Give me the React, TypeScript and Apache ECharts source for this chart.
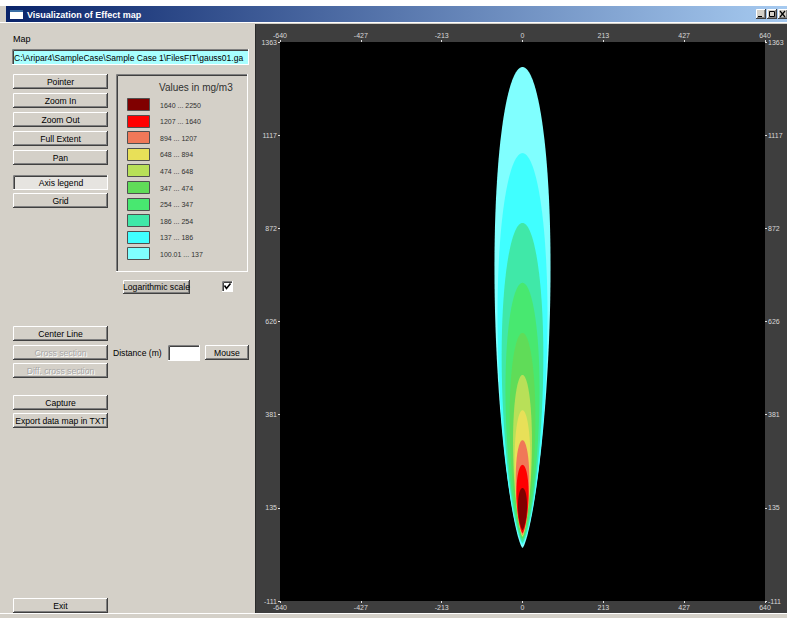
import React, { useEffect, useRef } from "react";
import * as echarts from "echarts";

// ---------------- data ----------------
const levelBreaks = ["100.01", "137", "186", "254", "347", "474", "648", "894", "1207", "1640", "2250"];
const levelColors = ["#80FFFF", "#40FFFF", "#40E8A8", "#48E870", "#60DC58", "#B8E058", "#E8E058", "#F07858", "#FF0000", "#800000"];
// contour outlines (data units), lowest level first
const contourCenter = [0, 0, 0, 0, 0, 0, 0, 0, 0, 0];
const contourBottom = [29, 37, 42, 50, 55, 58, 60, 63, 68, 76];
const contourTop = [1297, 1070, 886, 728, 596, 485, 392, 313, 248, 187];
const contourHalfWidth = [74, 66, 55, 45, 34, 25, 21, 18, 16, 12];
const xTickLabels = ["-640", "-427", "-213", "0", "213", "427", "640"];
const yTickLabels = ["-111", "135", "381", "626", "872", "1117", "1363"];
const xExtent = [-640, 640];
const yExtent = [-111, 1363];
const windowTitle = "Visualization of Effect map";
const mapPath = "C:\\Aripar4\\SampleCase\\Sample Case 1\\FilesFIT\\gauss01.ga";
const legendTitle = "Values in mg/m3";

// ---------------- ui helpers ----------------
const FACE = "#D4D0C8";
const FF = "'Liberation Sans', Arial, sans-serif";
const Z = -2;

function ln(x1: number, y1: number, x2: number, y2: number, color: string, w = 1): any {
  return { type: "line", z: Z, silent: true, shape: { x1, y1, x2, y2 }, style: { stroke: color, lineWidth: w } };
}
function rc(x: number, y: number, w: number, h: number, fill: any, z = Z): any {
  return { type: "rect", z, silent: true, shape: { x, y, width: w, height: h }, style: { fill } };
}
function tx(x: number, y: number, s: string, font: string, fill: string, align = "left", valign = "middle"): any {
  return {
    type: "text", z: Z, silent: true, x, y,
    style: { text: s, font, fill, align, verticalAlign: valign, textAlign: align, textVerticalAlign: valign },
  };
}
function raised(x: number, y: number, w: number, h: number, face = FACE): any[] {
  return [
    rc(x, y, w, h, face),
    ln(x + 0.5, y + h - 1, x + 0.5, y + 0.5, "#FFFFFF"),
    ln(x + 0.5, y + 0.5, x + w - 1, y + 0.5, "#FFFFFF"),
    ln(x + w - 0.5, y, x + w - 0.5, y + h, "#404040"),
    ln(x, y + h - 0.5, x + w, y + h - 0.5, "#404040"),
    ln(x + w - 1.5, y + 1, x + w - 1.5, y + h - 1, "#808080"),
    ln(x + 1, y + h - 1.5, x + w - 1, y + h - 1.5, "#808080"),
  ];
}
function sunken(x: number, y: number, w: number, h: number, fill: string): any[] {
  return [
    rc(x, y, w, h, fill),
    ln(x + 0.5, y + h, x + 0.5, y + 0.5, "#808080"),
    ln(x + 0.5, y + 0.5, x + w, y + 0.5, "#808080"),
    ln(x + 1.5, y + h - 1, x + 1.5, y + 1.5, "#404040"),
    ln(x + 1.5, y + 1.5, x + w - 1, y + 1.5, "#404040"),
    ln(x + w - 0.5, y, x + w - 0.5, y + h, "#FFFFFF"),
    ln(x, y + h - 0.5, x + w, y + h - 0.5, "#FFFFFF"),
  ];
}
function button(x: number, y: number, w: number, h: number, label: string, state = ""): any[] {
  const font = `8.6px ${FF}`;
  const cx = x + w / 2, cy = y + h / 2;
  if (state === "pressed") {
    return [...sunken(x, y, w, h, "#E6E4E0"), tx(cx + 0.5, cy + 0.5, label, font, "#000", "center")];
  }
  const els = raised(x, y, w, h);
  if (state === "disabled") {
    els.push(tx(cx + 1, cy + 1, label, font, "#FFFFFF", "center"));
    els.push(tx(cx, cy, label, font, "#A8A8A8", "center"));
  } else {
    els.push(tx(cx, cy, label, font, "#000", "center"));
  }
  return els;
}

const leftButtons = [
  { label: "Pointer", y: 74, state: "" },
  { label: "Zoom In", y: 93, state: "" },
  { label: "Zoom Out", y: 112, state: "" },
  { label: "Full Extent", y: 131, state: "" },
  { label: "Pan", y: 150, state: "" },
  { label: "Axis legend", y: 175, state: "pressed" },
  { label: "Grid", y: 193, state: "" },
  { label: "Center Line", y: 326, state: "" },
  { label: "Cross section", y: 345, state: "disabled" },
  { label: "Diff. cross section", y: 363, state: "disabled" },
  { label: "Capture", y: 395, state: "" },
  { label: "Export data map in TXT", y: 413, state: "" },
  { label: "Exit", y: 598, state: "" },
];

function buildGraphic(): any[] {
  const els: any[] = [];
  // window background / border
  els.push(rc(0, 0, 787, 618, FACE));
  els.push(rc(0, 0, 787, 6, "#FFFFFF"));
  // title bar
  els.push(
    rc(6, 6, 781, 16, new echarts.graphic.LinearGradient(0, 0, 1, 0, [
      { offset: 0, color: "#0A246A" },
      { offset: 1, color: "#A6CAF0" },
    ]))
  );
  els.push(rc(10, 10, 13, 9, "#FFFFFF"));
  els.push(rc(10, 10, 13, 2, "#3A6EA5"));
  els.push(tx(27, 14.5, windowTitle, `bold 9px ${FF}`, "#FFFFFF"));
  // window control buttons
  els.push(...raised(756, 9, 10, 10));
  els.push(ln(758, 16.5, 762, 16.5, "#000", 1));
  els.push(...raised(767, 9, 10, 10));
  els.push({ type: "rect", z: Z, silent: true, shape: { x: 769.5, y: 11.5, width: 5, height: 5 }, style: { fill: "none", stroke: "#000", lineWidth: 1 } });
  els.push(...raised(778, 9, 10, 10));
  els.push(ln(780, 11, 785, 17, "#000", 1.2));
  els.push(ln(785, 11, 780, 17, "#000", 1.2));
  els.push(ln(0, 22.5, 787, 22.5, "#FFFFFF"));

  // map path
  els.push(tx(13, 38.5, "Map", `9px ${FF}`, "#000"));
  els.push(...sunken(12, 49, 237, 16, "#A8FFFF"));
  els.push({
    type: "text", z: Z, silent: true, x: 14, y: 57.5,
    style: {
      text: mapPath, font: `8.5px ${FF}`, fill: "#000", width: 233, overflow: "truncate", ellipsis: "",
      align: "left", verticalAlign: "middle", textAlign: "left", textVerticalAlign: "middle",
    },
  });

  // buttons
  leftButtons.forEach((b) => els.push(...button(13, b.y, 95, 15, b.label, b.state)));

  // legend box
  els.push(rc(116, 74, 132, 198, FACE));
  els.push(ln(116.5, 272, 116.5, 74.5, "#808080"));
  els.push(ln(116.5, 74.5, 248, 74.5, "#808080"));
  els.push(ln(247.5, 74, 247.5, 272, "#FFFFFF"));
  els.push(ln(116, 271.5, 248, 271.5, "#FFFFFF"));
  els.push(ln(117.5, 271, 117.5, 75.5, "#404040"));
  els.push(ln(117.5, 75.5, 247, 75.5, "#404040"));
  els.push(tx(159, 87.5, legendTitle, `10px ${FF}`, "#303030"));
  const n = levelColors.length;
  for (let r = 0; r < n; r++) {
    const i = n - 1 - r;
    const cy = 104.5 + r * 16.6;
    els.push({
      type: "rect", z: Z, silent: true,
      shape: { x: 127.5, y: Math.round(cy - 6.5) + 0.5, width: 22, height: 12 },
      style: { fill: levelColors[i], stroke: "#505050", lineWidth: 1 },
    });
    els.push(tx(160, cy + 0.5, `${levelBreaks[i]} ... ${levelBreaks[i + 1]}`, `7px ${FF}`, "#303030"));
  }

  // logarithmic scale + checkbox
  els.push(...raised(123, 280, 67, 14, "#C8C4BC"));
  els.push(tx(156.5, 287, "Logarithmic scale", `8.6px ${FF}`, "#000", "center"));
  els.push(...sunken(222, 281, 11, 11, "#FFFFFF"));
  els.push({
    type: "polyline", z: Z, silent: true,
    shape: { points: [[224.5, 285.5], [226.5, 288.5], [230.5, 283.5]] },
    style: { stroke: "#000", lineWidth: 1.6, fill: "none" },
  });

  // distance
  els.push(tx(113, 353, "Distance (m)", `8.6px ${FF}`, "#000"));
  els.push(...sunken(168, 345, 32, 16, "#FFFFFF"));
  els.push(...button(205, 345, 44, 15, "Mouse"));

  // plot frame
  els.push(rc(255, 24, 532, 589, "#3E3E3E"));
  els.push(ln(255.5, 24, 255.5, 613, "#2A2A2A"));
  els.push(ln(0, 613.5, 787, 613.5, "#FFFFFF"));
  // plot background
  els.push(rc(280, 42, 485, 559, "#000000", -1));
  return els;
}

// plume contour outline profile (closed shape between bottom and top)
const PA = 0.7, PB = 0.5;
const PT = PA / (PA + PB);
const PEAK = Math.pow(PT, PA) * Math.pow(1 - PT, PB);
function profile(t: number): number {
  return (Math.pow(t, PA) * Math.pow(1 - t, PB)) / PEAK;
}

const labelAxisCommon = {
  type: "value",
  min: 0,
  max: 6,
  interval: 1,
  splitLine: { show: false },
  axisLine: { show: false, onZero: false },
  axisTick: { show: true, length: 2, lineStyle: { color: "#E0E0E0", width: 1 } },
};

export default function App() {
  const ref = useRef<HTMLDivElement>(null);
  useEffect(() => {
    if (!ref.current) return;
    const chart = echarts.init(ref.current, undefined, { renderer: "svg" });
    const plumeData = contourTop.map((top, i) => [contourCenter[i], contourBottom[i], top, contourHalfWidth[i]]);
    const labelStyle = { fontSize: 7, color: "#D8D8D8", fontFamily: FF };
    chart.setOption({
      animation: false,
      backgroundColor: FACE,
      grid: { left: 280, top: 42, width: 485, height: 559, show: false },
      xAxis: [
        { type: "value", min: xExtent[0], max: xExtent[1], show: false, axisLine: { onZero: false } },
        {
          ...labelAxisCommon, position: "top",
          axisLabel: { ...labelStyle, margin: 3, formatter: (v: number) => xTickLabels[Math.round(v)] },
        },
        {
          ...labelAxisCommon, position: "bottom",
          axisLabel: { ...labelStyle, margin: 3, formatter: (v: number) => xTickLabels[Math.round(v)] },
        },
      ],
      yAxis: [
        { type: "value", min: yExtent[0], max: yExtent[1], show: false, axisLine: { onZero: false } },
        {
          ...labelAxisCommon, position: "left",
          axisLabel: { ...labelStyle, margin: 3, formatter: (v: number) => yTickLabels[Math.round(v)] },
        },
        {
          ...labelAxisCommon, position: "right",
          axisLabel: { ...labelStyle, margin: 3, formatter: (v: number) => yTickLabels[Math.round(v)] },
        },
      ],
      series: [
        {
          type: "custom",
          xAxisIndex: 0,
          yAxisIndex: 0,
          z: 3,
          clip: true,
          data: plumeData,
          renderItem: (params: any, api: any) => {
            const cx = api.value(0), yb = api.value(1), yt = api.value(2), w = api.value(3);
            const N = 160;
            const right: number[][] = [];
            const left: number[][] = [];
            for (let k = 0; k <= N; k++) {
              // denser sampling near both ends so the caps stay round
              const t = 0.5 - 0.5 * Math.cos((Math.PI * k) / N);
              const y = yb + t * (yt - yb);
              const g = w * profile(t);
              right.push(api.coord([cx + g, y]));
              left.push(api.coord([cx - g, y]));
            }
            const pts = right.concat(left.reverse());
            return {
              type: "polygon",
              shape: { points: pts },
              style: { fill: levelColors[params.dataIndex], stroke: null },
            };
          },
        },
      ],
      graphic: { elements: buildGraphic() },
    });
    return () => chart.dispose();
  }, []);
  return <div ref={ref} style={{ position: "absolute", left: 0, top: 0, width: 787, height: 618 }} />;
}
